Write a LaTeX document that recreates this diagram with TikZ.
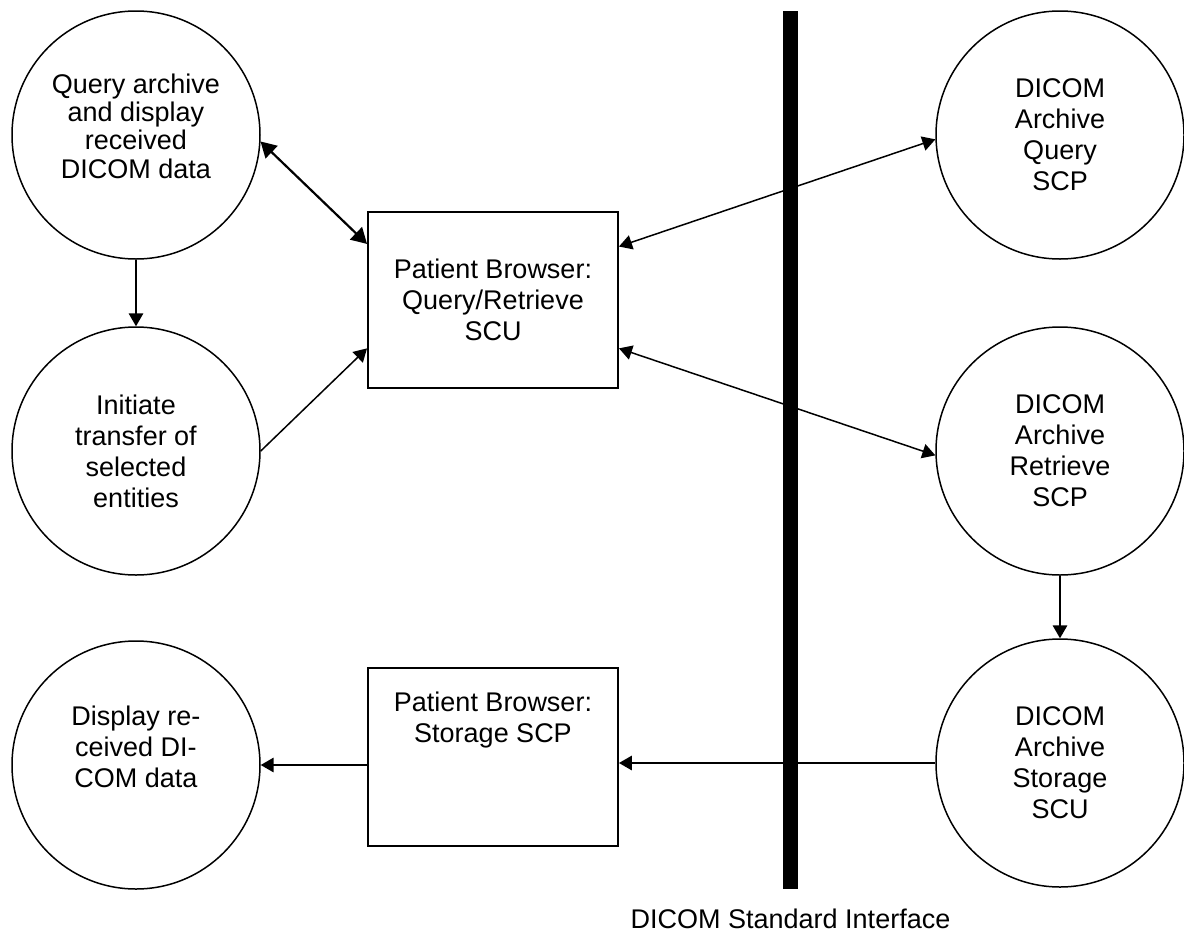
\documentclass[tikz,border=0pt]{standalone}
\usepackage{fontspec}
\setmainfont{Liberation Sans}
\usetikzlibrary{arrows}
\usetikzlibrary{positioning}
\tikzstyle{proc}=[circle,draw=black,minimum size=124pt,inner sep=0pt,align=center]
\tikzstyle{unit}=[rectangle,draw=black,line width=1pt,minimum width=125pt,minimum height=88pt,inner sep=0pt,align=center]
\tikzstyle{barrier}=[rectangle,fill=black,minimum width=7.5pt,minimum height=439pt,inner sep=0pt]
\tikzstyle{flow}=[->,>=triangle 60]
\tikzstyle{both}=[<->,>=triangle 60]
\tikzset{every picture/.style={
    line width=0.75pt
  }
}

\begin{document}
\begin{tikzpicture}[x=0.5pt,y=-0.5pt,font=\fontsize{13.5}{15.5}\selectfont]
      \useasboundingbox (0,0) rectangle (1184,932);
      \node[proc,text depth=9pt,font=\fontsize{13.5}{14.2}\selectfont] at (136,135) (qry) {Query archive\\and display\\received\\DICOM data};
      \node[proc] at (136,451) (init) {Initiate\\transfer of\\selected\\entities};
      \node[proc,text depth=18pt] at (136,765) (disp) {Display re-\\ceived DI-\\COM data};
      \node[unit] at (493,300) (qrunit) {Patient Browser:\\Query/Retrieve\\SCU};
      \node[unit,minimum height=89pt,text depth=40pt] at (493,757) (ssunit) {Patient Browser:\\Storage SCP};
      \node[barrier] at (790.5,450) (bar) {};
      \node[below=6pt of bar] (iface) {DICOM Standard Interface};
      \node[proc] at (1060,135) (qscp) {DICOM\\Archive\\Query\\SCP};
      \node[proc] at (1060,451) (rscp) {DICOM\\Archive\\Retrieve\\SCP};
      \node[proc] at (1060,763) (sscu) {DICOM\\Archive\\Storage\\SCU};
      \draw[both,line width=1.1pt] (qry.-3)--(qrunit.156);
      \draw[flow] (qry.south)--(init.north);
      \draw[flow] (init.east)--(qrunit.201);
      \draw[both] (qscp.182)--(qrunit.23);
      \draw[both] (rscp.182)--(qrunit.339);
      \draw[flow] (rscp.south)--(sscu.north);
      \draw[flow] (sscu.west)--(sscu.west -| ssunit.east);
      \draw[flow] (ssunit.west |- disp.east)--(disp.east);
    \end{tikzpicture}
\end{document}
